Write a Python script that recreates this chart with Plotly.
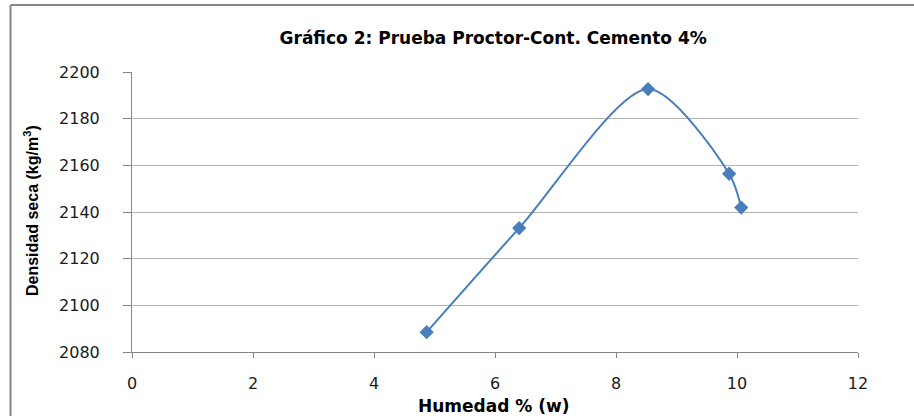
import plotly.graph_objects as go

# Data
humedad = [4.87, 6.40, 8.53, 9.87, 10.07]
densidad = [2088.5, 2133.1, 2192.7, 2156.4, 2141.9]
x_ticks = [0, 2, 4, 6, 8, 10, 12]
y_ticks = [2080, 2100, 2120, 2140, 2160, 2180, 2200]

title_text = "Gráfico 2: Prueba Proctor-Cont. Cemento 4%"
x_title = "Humedad % (w)"
y_title = "Densidad seca (kg/m<sup>3</sup>)"

W, H = 914, 416
ML, MR, MT, MB = 132, 56, 72, 64
PW, PH = W - ML - MR, H - MT - MB

def px_x(p):
    return (p - ML) / PW

def px_y(p):
    return (H - MB - p) / PH

blue = "#4A7EBB"
fig = go.Figure()
fig.add_trace(go.Scatter(
    x=humedad, y=densidad, mode="lines+markers",
    line=dict(color=blue, width=2, shape="spline", smoothing=0.8),
    marker=dict(symbol="diamond", size=11, color=blue, line=dict(width=0)),
    showlegend=False, hoverinfo="x+y",
))

fig.update_layout(
    width=W, height=H,
    margin=dict(l=ML, r=MR, t=MT, b=MB),
    paper_bgcolor="white", plot_bgcolor="white",
    font=dict(family="DejaVu Sans", color="#1a1a1a"),
    title=dict(text=title_text, x=(ML + PW / 2) / W - 0.002, xanchor="center",
               y=1 - 38 / H, yanchor="middle", yref="container",
               font=dict(family="DejaVu Sans", size=17, color="#000000", weight="bold")),
    xaxis=dict(range=[0, 12], tickvals=x_ticks, showgrid=False, zeroline=False,
               showline=True, linecolor="#868686", linewidth=1,
               ticks="outside", ticklen=5, tickcolor="#868686",
               tickfont=dict(size=16, color="#1a1a1a"), ticklabelstandoff=12,
               fixedrange=True),
    yaxis=dict(range=[2080, 2200], tickvals=y_ticks, showgrid=True,
               gridcolor="#b3b3b3", gridwidth=1, zeroline=False,
               showline=True, linecolor="#868686", linewidth=1,
               ticks="outside", ticklen=8, tickcolor="#868686",
               tickfont=dict(size=16, color="#1a1a1a"), ticklabelstandoff=20,
               fixedrange=True),
    annotations=[
        dict(text=x_title, xref="paper", yref="paper", x=px_x(494), y=px_y(406),
             xanchor="center", yanchor="middle", showarrow=False,
             font=dict(family="DejaVu Sans", size=17, color="#000000", weight="bold")),
        dict(text=y_title, xref="paper", yref="paper", x=px_x(31), y=px_y(211),
             xanchor="center", yanchor="middle", showarrow=False, textangle=-90,
             font=dict(family="Liberation Sans", size=16, color="#000000", weight="bold")),
    ],
    shapes=[
        dict(type="line", xref="paper", yref="paper", x0=px_x(10.5), x1=px_x(930),
             y0=px_y(5), y1=px_y(5), line=dict(color="#868686", width=2)),
        dict(type="line", xref="paper", yref="paper", x0=px_x(10.5), x1=px_x(10.5),
             y0=px_y(5), y1=px_y(430), line=dict(color="#868686", width=2)),
    ],
)

fig.write_html("out.html", config={"displayModeBar": False},
               post_script="document.body.style.margin='0px';document.body.style.overflow='hidden';")
